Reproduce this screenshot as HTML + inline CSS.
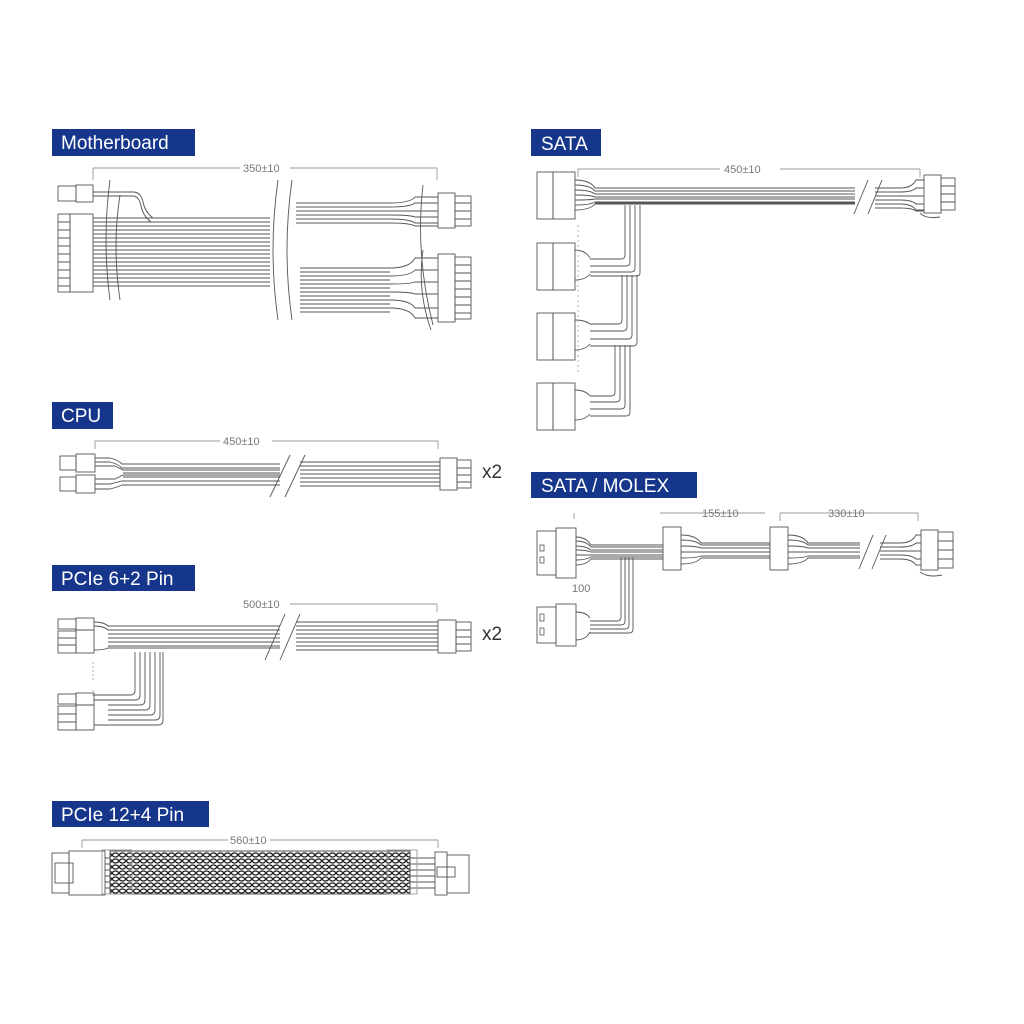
<!DOCTYPE html>
<html><head><meta charset="utf-8"><style>
html,body{margin:0;padding:0;background:#fff;}
svg{display:block}
.lbl{fill:#fff;font-family:"Liberation Sans",sans-serif;font-size:19px}
.dim{fill:#777;font-family:"Liberation Sans",sans-serif;font-size:11px}
.x2{fill:#333;font-family:"Liberation Sans",sans-serif;font-size:19px}
</style></head><body>
<svg width="1024" height="1024" viewBox="0 0 1024 1024" xmlns="http://www.w3.org/2000/svg">
<defs>
<pattern id="mesh" width="7" height="6" patternUnits="userSpaceOnUse">
<rect width="7" height="6" fill="#fff"/>
<ellipse cx="3.5" cy="3" rx="3" ry="2" fill="none" stroke="#222" stroke-width="1.3"/>
</pattern>
</defs>
<g fill="#15368a">
<rect x="52" y="129" width="143" height="27"/>
<rect x="531" y="129" width="70" height="27"/>
<rect x="52" y="402" width="61" height="27"/>
<rect x="52" y="565" width="143" height="26"/>
<rect x="52" y="801" width="157" height="26"/>
<rect x="531" y="472" width="166" height="26"/>
</g>
<text class="lbl" x="61" y="149">Motherboard</text>
<text class="lbl" x="541" y="150">SATA</text>
<text class="lbl" x="61" y="422">CPU</text>
<text class="lbl" x="61" y="585">PCIe 6+2 Pin</text>
<text class="lbl" x="61" y="821">PCIe 12+4 Pin</text>
<text class="lbl" x="541" y="492">SATA / MOLEX</text>

<g stroke="#555" stroke-width="0.9" fill="none">
<!-- Motherboard -->
<path d="M93 168H240 M290 168H437 M93 168v12 M437 168v12" stroke="#999"/>
<rect x="58" y="186" width="18" height="15"/><rect x="76" y="185" width="17" height="17"/>
<rect x="58" y="214" width="12" height="78"/><rect x="70" y="214" width="23" height="78"/>
<path d="M58 222h12M58 230h12M58 238h12M58 246h12M58 254h12M58 262h12M58 270h12M58 278h12M58 286h12"/>
<path d="M93 192h40q8 0 10 10t10 16H270 M93 196h40q6 0 8 10t10 16H270"/>
<path d="M93 218H270M93 222H270M93 226H270M93 230H270M93 234H270M93 238H270M93 242H270M93 246H270M93 250H270M93 254H270M93 258H270M93 262H270M93 266H270M93 270H270M93 274H270M93 278H270M93 282H270M93 286H270"/>
<path d="M110 180q-8 60 0 120M278 180q-10 70 0 140M292 180q-10 70 0 140M120 195q-8 50 0 105"/>
<path d="M296 203H390M296 207H390M296 211H390M296 215H390M296 219H390M296 223H390"/>
<path d="M390 203q20 0 25 -6H438M390 207q20 0 25 -4H438M390 211q20 0 25 0H438M390 215q20 0 25 2H438M390 219q20 0 25 4H438M390 223q20 0 25 3H438"/>
<rect x="438" y="193" width="17" height="35"/><rect x="455" y="196" width="16" height="30"/>
<path d="M455 203h16M455 211h16M455 219h16"/>
<path d="M300 268H390M300 272H390M300 276H390M300 280H390M300 284H390M300 288H390M300 292H390M300 296H390M300 300H390M300 304H390M300 308H390M300 312H390"/>
<path d="M390 268q20 0 25 -10H438M390 276q20 0 25 -6H438M390 284q20 0 25 -2H438M390 292q20 0 25 2H438M390 300q20 0 25 8H438M390 308q20 0 25 10H438"/>
<rect x="438" y="254" width="17" height="68"/><rect x="455" y="257" width="16" height="62"/>
<path d="M455 265h16M455 273h16M455 281h16M455 289h16M455 297h16M455 305h16M455 313h16"/>
<path d="M423 185q-8 70 10 140M423 250q-6 40 8 80"/>

<!-- CPU -->
<path d="M95 441H220 M272 441H438 M95 441v8 M438 441v8" stroke="#999"/>
<rect x="60" y="456" width="16" height="14"/><rect x="76" y="454" width="19" height="18"/>
<rect x="60" y="477" width="16" height="14"/><rect x="76" y="475" width="19" height="18"/>
<path d="M95 458h15q8 2 12 6H280 M95 462h15q8 2 12 6H280 M95 466h20q4 2 8 4H280 M95 479h20q4 -2 8 -4H280 M95 484h15q8 -2 12 -3H280 M95 489h15q8 -2 12 -4H280 M123 473H280 M123 477H280 M123 481H280 M123 485H280"/>
<path d="M300 462H440M300 466H440M300 470H440M300 474H440M300 478H440M300 482H440M300 486H440"/>
<path d="M290 455l-20 42M305 455l-20 42"/>
<rect x="440" y="458" width="17" height="32" fill="#fff"/><rect x="457" y="460" width="14" height="28"/>
<path d="M457 468h14M457 475h14M457 482h14"/>

<!-- PCIe 6+2 -->
<path d="M290 604H437 M437 604v8" stroke="#999"/>
<rect x="58" y="619" width="18" height="10"/><rect x="76" y="618" width="18" height="12"/>
<rect x="58" y="631" width="18" height="22"/><rect x="76" y="630" width="18" height="23"/>
<path d="M58 638h18M58 645h18"/>
<path d="M94 622q10 0 14 4H280M94 626q10 0 14 4H280M108 634H280M108 638H280M108 642H280M108 646H280M94 650q10 0 14 -2H280"/>
<path d="M296 622H438M296 626H438M296 630H438M296 634H438M296 638H438M296 642H438M296 646H438M296 650H438"/>
<path d="M285 614l-20 46M300 614l-20 46"/>
<rect x="438" y="620" width="18" height="33"/><rect x="456" y="622" width="15" height="29"/>
<path d="M456 630h15M456 637h15M456 644h15"/>
<path d="M135 652V690q0 5 -5 5H94 M140 652V695q0 5 -5 5H94 M145 652V700q0 5 -5 5H108 M150 652V705q0 5 -5 5H108 M155 652V710q0 5 -5 5H108 M160 652V715q0 5 -5 5H108 M163 652V720q0 5 -5 5H94"/>
<rect x="58" y="694" width="18" height="10"/><rect x="76" y="693" width="18" height="12"/>
<rect x="58" y="706" width="18" height="24"/><rect x="76" y="705" width="18" height="25"/>
<path d="M58 714h18M58 722h18"/>
<path d="M93 680v-20M93 690v8" stroke="#aaa" stroke-dasharray="2 2"/>

<!-- PCIe 12+4 -->
<path d="M82 840H228 M270 840H438 M82 840v8 M438 840v8" stroke="#999"/>
<rect x="52" y="853" width="17" height="40"/><rect x="69" y="851" width="36" height="44"/>
<rect x="55" y="863" width="18" height="20"/>
<path d="M105 858H435M105 864H435M105 870H435M105 876H435M105 882H435M105 888H435"/>
<rect x="110" y="851" width="300" height="43" fill="url(#mesh)" stroke="#444"/>
<rect x="102" y="850" width="30" height="44" fill="none" stroke="#999"/>
<rect x="387" y="850" width="30" height="44" fill="none" stroke="#999"/>
<rect x="435" y="852" width="12" height="43"/><rect x="447" y="855" width="22" height="38"/>
<rect x="437" y="867" width="18" height="10"/>

<!-- SATA -->
<path d="M578 169H720 M780 169H920 M578 169v8 M920 169v8" stroke="#999"/>
<g id="sc"><rect x="537" y="172" width="16" height="47"/><rect x="553" y="172" width="22" height="47"/></g>
<use href="#sc" y="71"/><use href="#sc" y="141"/><use href="#sc" y="211"/>
<path d="M575 180q15 0 20 8H855M575 185q15 0 20 6H855M575 190q15 0 20 4H855M575 195q15 0 20 2H855M575 200q15 0 20 -1H855M575 205q15 0 20 -3H855M575 210q15 0 20 -6H855"/>
<path d="M595 199H855M595 203H855"/>
<path d="M875 188H900M875 192H900M875 196H900M875 200H900M875 204H900M875 208H900"/>
<path d="M900 188q12 0 16 -8H924M900 192q12 0 16 -4H924M900 196q12 0 16 0H924M900 200q12 0 16 4H924M900 204q12 0 16 6H924M900 208q12 0 16 3H924"/>
<path d="M868 180l-14 34M882 180l-14 34"/>
<rect x="924" y="175" width="17" height="38"/><rect x="941" y="178" width="14" height="32"/>
<path d="M941 186h14M941 194h14M941 202h14"/>
<path d="M920 213q5 6 20 4"/>
<path d="M625 205V255q0 4 -4 4H590 M630 205V262q0 4 -4 4H590 M635 205V268q0 4 -4 4H590 M640 205V273q0 3 -4 3H590 M575 250q10 0 15 8M575 280q10 0 15 -6"/>
<path d="M622 275V320q0 4 -4 4H590 M627 275V327q0 4 -4 4H590 M632 275V335q0 4 -4 4H590 M637 275V342q0 4 -4 4H590 M575 320q10 0 15 4M575 350q10 0 15 -6"/>
<path d="M615 345V392q0 4 -4 4H590 M620 345V398q0 4 -4 4H590 M625 345V405q0 4 -4 4H590 M630 345V412q0 4 -4 4H590 M575 390q10 0 15 6M575 420q10 0 15 -6"/>
<path d="M578 225v150" stroke="#aaa" stroke-dasharray="2 3"/>

<!-- SATA/MOLEX -->
<path d="M574 513v6M660 513H765 M780 513H918 M918 513v8 M780 513v8" stroke="#999"/>
<rect x="537" y="531" width="19" height="44"/><rect x="556" y="528" width="20" height="50"/>
<rect x="537" y="607" width="19" height="36"/><rect x="556" y="604" width="20" height="42"/>
<path d="M576 537q10 0 15 8H663M576 541q10 0 15 6H663M576 546q10 0 15 4H663M576 550q10 0 15 2H663M576 555q10 0 15 0H663M576 560q10 0 15 -3H663M576 565q10 0 15 -6H663"/>
<rect x="663" y="527" width="18" height="43" fill="#fff"/>
<path d="M681 535q15 0 20 8H770M681 540q15 0 20 5H770M681 546q15 0 20 2H770M681 552q15 0 20 0H770M681 558q15 0 20 -2H770M681 564q15 0 20 -6H770"/>
<rect x="770" y="527" width="18" height="43" fill="#fff"/>
<path d="M788 535q15 0 20 8H860M788 540q15 0 20 5H860M788 546q15 0 20 2H860M788 552q15 0 20 0H860M788 558q15 0 20 -2H860M788 564q15 0 20 -6H860"/>
<path d="M873 535l-14 34M886 535l-14 34"/>
<path d="M880 543H900M880 547H900M880 551H900M880 555H900M880 559H900"/>
<path d="M900 543q12 0 16 -8H921M900 547q12 0 16 -4H921M900 551q12 0 16 0H921M900 555q12 0 16 4H921M900 559q12 0 16 6H921"/>
<rect x="921" y="530" width="17" height="40"/><rect x="938" y="532" width="15" height="36"/>
<path d="M938 541h15M938 550h15M938 559h15"/>
<path d="M920 572q8 6 22 3"/>
<path d="M621 557V617q0 4 -4 4H590 M625 557V621q0 4 -4 4H590 M629 557V625q0 4 -4 4H590 M633 557V629q0 4 -4 4H590 M576 612q10 0 14 6M576 640q10 0 14 -8"/>
</g>
<g fill="#fff" stroke="#555" stroke-width="0.8">
<rect x="540" y="545" width="4" height="6"/><rect x="540" y="557" width="4" height="6"/>
<rect x="540" y="614" width="4" height="7"/><rect x="540" y="628" width="4" height="7"/>
</g>
<text class="dim" x="243" y="172">350±10</text>
<text class="dim" x="223" y="445">450±10</text>
<text class="dim" x="243" y="608">500±10</text>
<text class="dim" x="230" y="844">560±10</text>
<text class="dim" x="724" y="173">450±10</text>
<text class="dim" x="702" y="517">155±10</text>
<text class="dim" x="828" y="517">330±10</text>
<text class="dim" x="572" y="592" font-size="8">100</text>
<text class="x2" x="482" y="478">x2</text>
<text class="x2" x="482" y="640">x2</text>
</svg>
</body></html>
